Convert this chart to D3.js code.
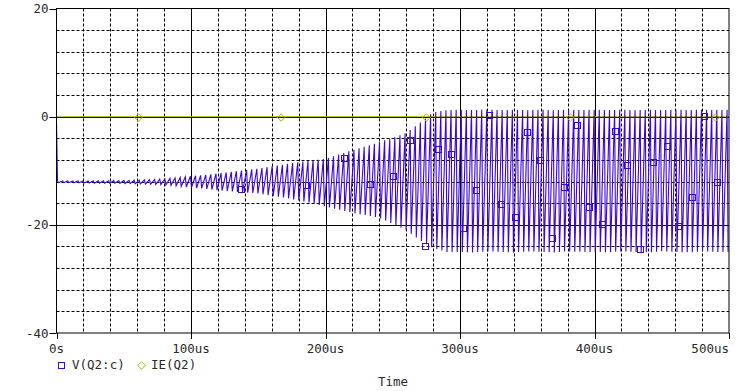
<!DOCTYPE html>
<html>
<head>
<meta charset="utf-8">
<script src="https://cdn.jsdelivr.net/npm/d3@7"></script>
<style>
  body { margin: 0; background: #fff; }
  text { font-family: "DejaVu Sans Mono", monospace; fill: #2a2a2a; }
</style>
</head>
<body>
<div id="chart"></div>
<script>
// envelope of V(Q2:c), read every 10us
const timeUs = [0,10,20,30,40,50,60,70,80,90,100,110,120,130,140,150,160,170,180,190,
  200,210,220,230,240,250,260,270,280,290,300,310,320,330,340,350,360,370,380,390,
  400,410,420,430,440,450,460,470,480,490,500];
const vTop = [-11.9,-11.9,-11.9,-11.85,-11.85,-11.8,-11.75,-11.65,-11.5,-11.3,-11.0,-10.8,-10.5,-10.2,-9.9,-9.6,-9.2,-8.8,-8.4,-8.1,
  -7.8,-7.0,-6.2,-5.5,-4.7,-3.9,-3.0,-1.2,0.8,1.2,1.3,1.2,1.3,1.2,1.3,1.2,1.3,1.2,1.3,1.2,
  1.3,1.2,1.3,1.2,1.3,1.2,1.3,1.2,1.3,1.2,1.3];
const vBottom = [-12.2,-12.2,-12.25,-12.3,-12.3,-12.35,-12.4,-12.5,-12.6,-12.8,-13.1,-13.3,-13.6,-13.8,-14.0,-14.2,-14.6,-15.0,-15.5,-16.0,
  -16.6,-17.2,-17.8,-18.2,-18.7,-19.8,-21.0,-22.8,-24.3,-25.0,-25.0,-25.1,-24.9,-25.0,-25.1,-24.9,-25.0,-25.1,-24.9,-25.0,
  -25.0,-25.1,-24.9,-25.0,-25.1,-24.9,-25.0,-25.1,-24.9,-25.0,-25.0];
const periodUs = 3.8;
const vStart = -1.0;

// square markers on V(Q2:c)
const vMarkT = [137.4,185.7,214,233.3,250.4,263,274.1,283.8,293.5,302.4,312,321.7,330.6,341,349.9,359.6,368.5,377.4,387.1,396,
  405.6,415.3,424.2,433.9,443.5,453.9,462.1,472.5,481.4,491.1];
const vMarkV = [-13.4,-12.65,-7.7,-12.5,-11.0,-4.3,-23.9,-6.0,-6.9,-20.6,-13.6,0.3,-16.2,-18.6,-2.9,-8.0,-22.4,-13.0,-1.6,-16.7,
  -19.9,-2.7,-9.0,-24.5,-8.4,-5.4,-20.2,-14.9,0.1,-12.1];

// IE(Q2)
const ieT = [0, 500];
const ieV = [0, 0];
const ieMarkT = [61, 167, 275, 382, 490];

const xTicks = [0, 100, 200, 300, 400, 500];
const xTickLabels = ["0s", "100us", "200us", "300us", "400us", "500us"];
const yTicks = [20, 0, -20, -40];

const width = 738, height = 391;
const margin = {top: 8.5, right: 9, bottom: 58, left: 56.5};
const vColor = "#3d06d2", ieColor = "#b4b400";

const svg = d3.select("#chart").append("svg")
  .attr("width", width)
  .attr("height", height);

const x = d3.scaleLinear().domain([0, 500]).range([margin.left, width - margin.right]);
const y = d3.scaleLinear().domain([-40, 20]).range([height - margin.bottom, margin.top]);

// grid
const grid = svg.append("g");
d3.range(20, 500, 20).forEach(t => {
  const major = t % 100 === 0;
  grid.append("line")
    .attr("x1", Math.round(x(t)) + 0.5).attr("x2", Math.round(x(t)) + 0.5)
    .attr("y1", y(20)).attr("y2", y(-40))
    .attr("stroke", "#000").attr("stroke-width", 1)
    .attr("stroke-dasharray", major ? null : "3,2");
});
d3.range(-36, 20, 4).forEach(v => {
  const major = v % 20 === 0;
  grid.append("line")
    .attr("x1", x(0)).attr("x2", x(500))
    .attr("y1", Math.round(y(v)) + 0.5).attr("y2", Math.round(y(v)) + 0.5)
    .attr("stroke", "#000").attr("stroke-width", 1)
    .attr("stroke-dasharray", major ? null : "3,2");
});

// V(Q2:c) trace
const topAt = d3.scaleLinear().domain(timeUs).range(vTop);
const botAt = d3.scaleLinear().domain(timeUs).range(vBottom);
const trace = [[0, vStart]];
for (let t0 = 0; t0 < 500; t0 += periodUs) {
  const tt = t0 + 0.2 * periodUs;
  const tb = t0 + 0.4 * periodUs;
  if (tt <= 500) trace.push([tt, topAt(tt)]);
  if (tb <= 500) trace.push([tb, botAt(tb)]);
}

svg.append("defs").append("clipPath").attr("id", "plot-clip")
  .append("rect")
  .attr("x", x(0)).attr("y", y(20))
  .attr("width", x(500) - x(0)).attr("height", y(-40) - y(20));

const plot = svg.append("g").attr("clip-path", "url(#plot-clip)");
const line = d3.line().x(d => x(d[0])).y(d => y(d[1]));

plot.append("path")
  .datum(ieT.map((t, i) => [t, ieV[i]]))
  .attr("d", line)
  .attr("fill", "none")
  .attr("stroke", ieColor)
  .attr("stroke-width", 1);

plot.append("path")
  .datum(trace)
  .attr("d", line)
  .attr("fill", "none")
  .attr("stroke", vColor)
  .attr("stroke-width", 1.1);

plot.selectAll(".vmark")
  .data(vMarkT.map((t, i) => [t, vMarkV[i]]))
  .enter().append("rect")
  .attr("class", "vmark")
  .attr("x", d => Math.round(x(d[0])) - 3 + 0.5)
  .attr("y", d => Math.round(y(d[1])) - 3 + 0.5)
  .attr("width", 6).attr("height", 6)
  .attr("fill", "none")
  .attr("stroke", vColor);

const diamond = d3.symbol().type(d3.symbolDiamond2).size(36);
plot.selectAll(".iemark")
  .data(ieMarkT)
  .enter().append("path")
  .attr("class", "iemark")
  .attr("transform", t => `translate(${x(t)},${Math.round(y(0)) + 0.5})`)
  .attr("d", diamond)
  .attr("fill", "none")
  .attr("stroke", ieColor);

// frame
svg.append("rect")
  .attr("x", x(0)).attr("y", y(20))
  .attr("width", x(500) - x(0)).attr("height", y(-40) - y(20))
  .attr("fill", "none").attr("stroke", "#000").attr("stroke-width", 1);

// axes
svg.selectAll(".ytick")
  .data(yTicks)
  .enter().append("line")
  .attr("x1", x(0) - 7).attr("x2", x(0))
  .attr("y1", d => Math.round(y(d)) + 0.5).attr("y2", d => Math.round(y(d)) + 0.5)
  .attr("stroke", "#000");

svg.selectAll(".ylabel")
  .data(yTicks)
  .enter().append("text")
  .attr("x", x(0) - 8)
  .attr("y", d => y(d) + 4.5)
  .attr("text-anchor", "end")
  .style("font-size", "12.5px")
  .text(d => d);

svg.selectAll(".xtick")
  .data(xTicks)
  .enter().append("line")
  .attr("x1", d => Math.round(x(d)) + 0.5).attr("x2", d => Math.round(x(d)) + 0.5)
  .attr("y1", y(-40)).attr("y2", y(-40) + 6)
  .attr("stroke", "#000");

svg.selectAll(".xlabel")
  .data(xTicks)
  .enter().append("text")
  .attr("x", d => x(d))
  .attr("y", y(-40) + 20)
  .attr("text-anchor", (d, i) => i === xTicks.length - 1 ? "end" : "middle")
  .style("font-size", "12.5px")
  .text((d, i) => xTickLabels[i]);

// legend
const legend = svg.append("g");
legend.append("rect")
  .attr("x", 58.5).attr("y", 362.5)
  .attr("width", 6).attr("height", 6)
  .attr("fill", "none").attr("stroke", vColor);
legend.append("text")
  .attr("x", 72).attr("y", 369)
  .style("font-size", "12.5px")
  .text("V(Q2:c)");
legend.append("path")
  .attr("transform", "translate(141.5,365.5)")
  .attr("d", diamond)
  .attr("fill", "none")
  .attr("stroke", ieColor);
legend.append("text")
  .attr("x", 151).attr("y", 369)
  .style("font-size", "12.5px")
  .text("IE(Q2)");

svg.append("text")
  .attr("x", 393).attr("y", 386)
  .attr("text-anchor", "middle")
  .style("font-size", "12.5px")
  .text("Time");
</script>
</body>
</html>
